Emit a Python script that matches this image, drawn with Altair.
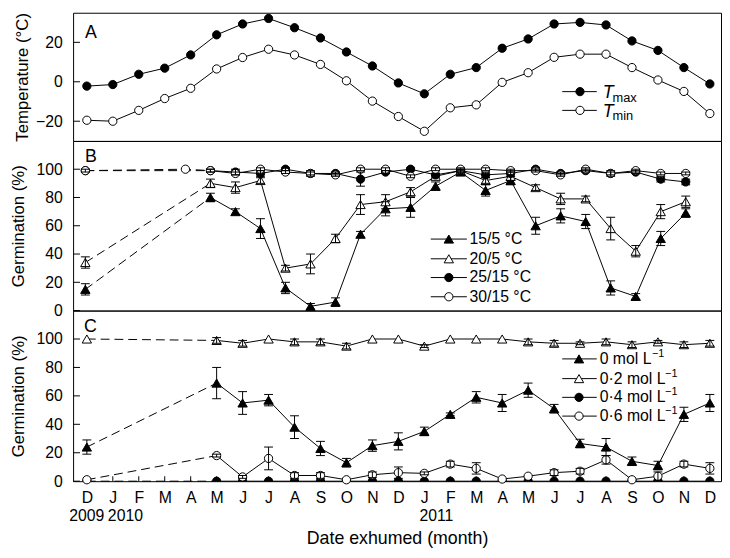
import json
import altair as alt
import pandas as pd

FONT = "Liberation Sans"
W = 657
HA, HB, HC = 130, 172, 173

# ---------------- data ----------------
month_labels = ["D", "J", "F", "M", "A", "M", "J", "J", "A", "S", "O", "N",
                "D", "J", "F", "M", "A", "M", "J", "J", "A", "S", "O", "N", "D"]
month_idx = list(range(25))
year_labels = ["2009", "2010", "2011"]
year_idx = [0, 1, 13]

# Panel A: air temperature
a_idx = list(range(25))
t_max = [-2.2, -1.4, 3.8, 6.9, 13.6, 23.8, 29.3, 32.1, 27.4, 22.2, 15.1, 8.0, -0.6,
         -6.1, 3.8, 7.2, 17.0, 21.7, 29.3, 30.1, 28.8, 20.7, 15.9, 7.2, -1.1]
t_min = [-19.5, -20.0, -14.5, -8.5, -3.3, 6.5, 12.3, 16.5, 13.6, 8.8, 0.5, -9.8, -17.6,
         -25.1, -13.2, -11.7, -0.3, 4.6, 12.4, 14.0, 14.0, 7.2, 0.9, -4.9, -16.1]

# Panel B: germination at temperature regimes
b_idx = [0, 5, 6, 7, 8, 9, 10, 11, 12, 13, 14, 15, 16, 17, 18, 19, 20, 21, 22, 23, 24]
b_idx_30 = [0, 4, 5, 6, 7, 8, 9, 10, 11, 12, 13, 14, 15, 16, 17, 18, 19, 20, 21, 22, 23, 24]
g_15_5 = [15, 80, 70, 58, 16, 3, 6, 54, 72, 73, 88, 98, 85, 92, 60, 67, 63, 16, 10, 51, 69]
e_15_5 = [4, 3, 2, 7, 4, 2, 3, 2, 5, 7, 3, 2, 4, 3, 6, 5, 5, 5, 2, 5, 3]
g_20_5 = [34, 90, 87, 92, 30, 33, 51, 75, 77, 84, 95, 99, 92, 95, 87, 79, 79, 58, 42, 70, 77]
e_20_5 = [4, 3, 4, 2, 2, 7, 3, 7, 5, 3, 1, 1, 2, 3, 2, 4, 2, 8, 4, 5, 4]
g_25_15 = [99, 99, 98, 97, 100, 97, 97, 93, 98, 100, 96, 99, 96, 97, 100, 97, 99, 97, 98, 93, 91]
e_25_15 = [1, 1, 2, 2, 1, 2, 1, 5, 1, 1, 1, 1, 2, 2, 1, 1, 1, 2, 1, 2, 2]
g_30_15 = [99, 100, 99, 97, 100, 98, 97, 96, 100, 100, 95, 100, 100, 100, 99, 99, 96, 100, 97, 99, 97, 97]
e_30_15 = [0, 0, 1, 1, 1, 1, 1, 1, 1, 1, 1, 1, 1, 1, 1, 1, 1, 1, 1, 1, 1, 1]

# Panel C: germination under PEG solutions
c_idx = [0, 5, 6, 7, 8, 9, 10, 11, 12, 13, 14, 15, 16, 17, 18, 19, 20, 21, 22, 23, 24]
g_0 = [24, 69, 55, 57, 38, 23, 13, 25, 28, 35, 47, 59, 55, 64, 51, 26.5, 24, 14, 11, 47, 55]
e_0 = [5, 11, 8, 4, 8, 5, 3, 4, 6, 3, 1, 4, 6, 5, 3, 3, 6, 3, 3, 5, 6]
g_02 = [100, 99, 97, 100, 98, 98, 95, 100, 100, 95, 100, 100, 100, 98, 97, 97, 98, 96, 98, 96, 97]
e_02 = [0, 2, 2, 0, 2, 2, 2, 0, 0, 1, 0, 0, 0, 2, 2, 1, 2, 2, 1, 2, 2]
g_04 = [0, 0, 0, 0, 0, 0, 0, 0, 0, 0, 0, 0, 0, 0, 0, 0, 0, 0, 0, 0, 0]
e_04 = [0, 0, 0, 0, 0, 0, 0, 0, 0, 0, 0, 0, 0, 0, 0, 0, 0, 0, 0, 0, 0]
g_06 = [1, 18, 3, 16, 4, 4, 1, 4.5, 6, 5.5, 12, 9, 1.5, 3.5, 6, 7, 15, 1, 3.5, 12, 9]
e_06 = [0, 1, 1, 8, 2, 2, 0, 2, 4, 1, 2, 4, 0, 0, 2, 2, 3, 0, 3, 2, 4]


def sdf(idx, vals, errs, name):
    return pd.DataFrame({"idx": idx, "v": vals, "err": errs, "series": name})


dfA = pd.concat([sdf(a_idx, t_max, [0] * len(a_idx), "Tmax"),
                 sdf(a_idx, t_min, [0] * len(a_idx), "Tmin")], ignore_index=True)
dfB = pd.concat([sdf(b_idx, g_15_5, e_15_5, "15/5"),
                 sdf(b_idx, g_20_5, e_20_5, "20/5"),
                 sdf(b_idx, g_25_15, e_25_15, "25/15"),
                 sdf(b_idx_30, g_30_15, e_30_15, "30/15")], ignore_index=True)
dfC = pd.concat([sdf(c_idx, g_0, e_0, "0"),
                 sdf(c_idx, g_02, e_02, "0.2"),
                 sdf(c_idx, g_04, e_04, "0.4"),
                 sdf(c_idx, g_06, e_06, "0.6")], ignore_index=True)

TRI, CIR = 90, 70
stylesA = {"Tmax": ("circle", "black", CIR), "Tmin": ("circle", "white", CIR)}
stylesB = {"15/5": ("triangle-up", "black", TRI), "20/5": ("triangle-up", "white", TRI),
           "25/15": ("circle", "black", CIR), "30/15": ("circle", "white", CIR)}
stylesC = {"0": ("triangle-up", "black", TRI), "0.2": ("triangle-up", "white", TRI),
           "0.4": ("circle", "black", CIR), "0.6": ("circle", "white", CIR)}


def one():
    return pd.DataFrame({"k": [0]})


def txt(text, x, y, size=16, baseline="middle", italic=False, align="left"):
    return alt.Chart(one()).mark_text(
        align=align, baseline=baseline, font=FONT, fontSize=size, color="black",
        fontStyle="italic" if italic else "normal"
    ).encode(x=alt.value(x), y=alt.value(y), text=alt.value(text))


def legend_symbol(style, x1, x2, xm, y):
    shp, fc, sz = style
    return [
        alt.Chart(one()).mark_rule(color="black", strokeWidth=1).encode(
            x=alt.value(x1), x2=alt.value(x2), y=alt.value(y)),
        alt.Chart(one()).mark_point(shape=shp, filled=True, fill=fc, stroke="black",
                                    strokeWidth=1, size=sz, opacity=1).encode(
            x=alt.value(xm), y=alt.value(y)),
    ]


def make_panel(df, order, styles, xdom, ydom, yvals, ytitle, h, xaxis, gap, tpad,
               clip_names=(), extra=()):
    xs = alt.Scale(domain=xdom, nice=False, zero=False)
    ys = alt.Scale(domain=ydom, nice=False, zero=False)
    yax = alt.Axis(values=yvals, title=ytitle, labelPadding=11, titlePadding=tpad)

    def X():
        return alt.X("idx:Q", scale=xs, axis=xaxis)

    def Y(f="v"):
        return alt.Y(f + ":Q", scale=ys, axis=yax)

    base = alt.Chart(df)
    layers = []
    # inward y ticks
    layers.append(alt.Chart(pd.DataFrame({"t": yvals})).mark_rule(color="black", strokeWidth=1)
                  .encode(y=alt.Y("t:Q", scale=ys, axis=yax), x=alt.value(0), x2=alt.value(7)))
    if xaxis is not None:
        # inward x ticks
        layers.append(alt.Chart(pd.DataFrame({"idx": month_idx})).mark_rule(color="black", strokeWidth=1)
                      .encode(x=X(), y=alt.value(h), y2=alt.value(h - 5)))
        # year row under the month letters
        yr = pd.DataFrame({"idx": year_idx, "yl": year_labels})
        layers.append(alt.Chart(yr).transform_filter("datum.idx == 0")
                      .mark_text(font=FONT, fontSize=16, baseline="middle", align="center", color="black")
                      .encode(x=X(), y=alt.value(h + 35), text="yl:N"))
        layers.append(alt.Chart(yr).transform_filter("datum.idx > 0")
                      .mark_text(font=FONT, fontSize=16, baseline="middle", align="left", dx=-5,
                                 color="black")
                      .encode(x=X(), y=alt.value(h + 35), text="yl:N"))
    if gap:
        solid = base.transform_filter("datum.idx >= 5")
        dash = base.transform_filter("datum.idx <= 5")
        layers.append(dash.mark_line(color="black", strokeWidth=1, strokeDash=[9, 5])
                      .encode(x=X(), y=Y(), detail="series:N"))
    else:
        solid = base
    layers.append(solid.mark_line(color="black", strokeWidth=1)
                  .encode(x=X(), y=Y(), detail="series:N"))
    for name in order:
        shp, fc, sz = styles[name]
        layers.append(base.transform_filter(alt.datum.series == name)
                      .mark_point(shape=shp, filled=True, fill=fc, stroke="black", strokeWidth=1,
                                  size=sz, opacity=1, clip=name in clip_names)
                      .encode(x=X(), y=Y()))
    eb = base.transform_filter("datum.err > 0").transform_calculate(
        lo="datum.v - datum.err", hi="datum.v + datum.err")
    layers.append(eb.mark_rule(color="black", strokeWidth=1).encode(x=X(), y=Y("lo"), y2="hi:Q"))
    for f in ["lo", "hi"]:
        layers.append(eb.mark_point(shape="M-1,0L1,0", filled=False, stroke="black", strokeWidth=1,
                                    size=81, opacity=1).encode(x=X(), y=Y(f)))
    layers.extend(extra)
    return alt.layer(*layers).properties(width=W, height=h)


# ---- Panel A ----
extraA = [txt("A", 12, 12, size=18, baseline="top")]
for name, y, sub in [("Tmax", 80, "max"), ("Tmin", 99, "min")]:
    extraA += legend_symbol(stylesA[name], 496, 531, 514, y)
    extraA.append(txt("T", 537, y + 6.5, size=18, baseline="alphabetic", italic=True))
    extraA.append(txt(sub, 547, y + 10, size=13, baseline="alphabetic"))

pA = make_panel(dfA, ["Tmax", "Tmin"], stylesA, [-0.53, 24.43], [-30, 35], [-20, 0, 20],
                "Temperature (°C)", HA, None, False, 4, extra=extraA)

# ---- Panel B ----
extraB = [txt("B", 12, 7, size=18, baseline="top")]
for name, y, label in [("15/5", 99.5, "15/5 °C"), ("20/5", 119.5, "20/5 °C"),
                       ("25/15", 138.5, "25/15 °C"), ("30/15", 158, "30/15 °C")]:
    extraB += legend_symbol(stylesB[name], 362.7, 399.3, 381, y)
    extraB.append(txt(label, 402, y))

pB = make_panel(dfB, ["15/5", "20/5", "25/15", "30/15"], stylesB, [-0.49, 25.41], [0, 120],
                [0, 20, 40, 60, 80, 100], "Germination (%)", HB, None, True, 9, extra=extraB)

# ---- Panel C ----
extraC = [txt("C", 11, 8, size=18, baseline="top")]
for name, y, label, wd in [("0", 49, "0 mol L", 52.5), ("0.2", 69, "0·2 mol L", 65.8),
                           ("0.4", 88, "0·4 mol L", 65.8), ("0.6", 107, "0·6 mol L", 65.8)]:
    extraC += legend_symbol(stylesC[name], 496, 531, 513, y)
    extraC.append(txt(label, 534, y))
    extraC.append(txt("−1", 534 + wd + 0.5, y - 5, size=11))

xaxisC = alt.Axis(values=month_idx, labelExpr=json.dumps(month_labels) + "[datum.value]",
                  title="Date exhumed (month)", labelPadding=9, titlePadding=24,
                  titleFontSize=18, labelOverlap=False, labelFlush=False)

pC = make_panel(dfC, ["0.4", "0", "0.2", "0.6"], stylesC, [-0.53, 24.43], [0, 120],
                [0, 20, 40, 60, 80, 100], "Germination (%)", HC, xaxisC, True, 9,
                clip_names=("0.4",), extra=extraC)

chart = (
    alt.vconcat(pA, pB, pC, spacing=0, bounds="flush")
    .resolve_scale(x="independent", y="independent")
    .properties(padding={"left": 0, "right": 0, "top": 0, "bottom": 0}, background="white")
    .configure_view(stroke="black", strokeWidth=1)
    .configure_axis(labelFont=FONT, titleFont=FONT, labelFontSize=16, titleFontSize=17,
                    labelColor="black", titleColor="black", titleFontWeight="normal",
                    grid=False, domain=False, ticks=False)
    .configure_text(font=FONT)
)

chart.save("out.html", embed_options={"renderer": "svg", "actions": False})
